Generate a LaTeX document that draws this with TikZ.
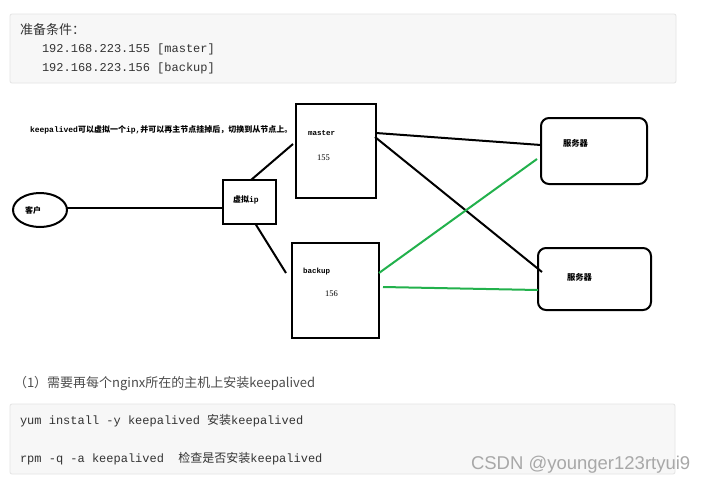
\documentclass[tikz,border=0pt]{standalone}
\usepackage{fontspec}
\usetikzlibrary{shapes.geometric}
\setmainfont{Liberation Serif}
\setmonofont{Liberation Mono}
\newfontfamily\cjk{Noto Sans CJK SC}
\newfontfamily\wmfont{Liberation Sans}
\newfontfamily\serifnum{Liberation Serif}
\definecolor{codebg}{HTML}{F7F7F7}
\definecolor{codeborder}{HTML}{E4E4E4}
\definecolor{codetxt}{HTML}{333333}
\definecolor{headtxt}{HTML}{4D4D4D}
\definecolor{paintgreen}{RGB}{34,177,76}
\definecolor{wmgray}{HTML}{A8A8A8}
\begin{document}
\begin{tikzpicture}[x=1pt,y=-1pt,
  codebox/.style={fill=codebg,draw=codeborder,line width=0.8pt,rounded corners=2pt},
  txt/.style={anchor=base west,inner sep=0pt,outer sep=0pt},
  codetext/.style={txt,text=codetxt,font=\fontsize{12}{14}\selectfont\ttfamily},
  dtext/.style={txt,text=black,font=\fontsize{8}{9}\selectfont},
  sq/.style={draw=black,line width=2pt,inner sep=0pt,outer sep=0pt,rectangle},
  srv/.style={sq,rounded corners=8pt},
  link/.style={line width=2pt,draw=black},
  glink/.style={line width=2pt,draw=paintgreen}]
\useasboundingbox (0,0) rectangle (709,482);
\fill[white] (0,0) rectangle (709,482);

% top code box
\draw[codebox] (10,14) rectangle (676,83);
\node[txt,text=codetxt,font=\fontsize{13}{15}\selectfont\cjk] (prep) at (20,34) {准备条件：};
\node[codetext] (ip1) at (42,52) {192.168.223.155 [master]};
\node[codetext] (ip2) at (42,71) {192.168.223.156 [backup]};

% diagram
\node[dtext] (note) at (30,132) {\bfseries\ttfamily keepalived\cjk 可以虚拟一个\ttfamily ip,\cjk 并可以再主节点挂掉后，切换到从节点上。};

\node[sq,minimum width=80pt,minimum height=94pt] (master) at (336,151) {};
\node[sq,minimum width=87pt,minimum height=95pt] (backup) at (335.5,290.5) {};
\node[sq,minimum width=53pt,minimum height=44pt] (vip) at (249.5,202) {};
\node[srv,minimum width=106pt,minimum height=66pt] (srv1) at (594,151) {};
\node[srv,minimum width=113pt,minimum height=62pt] (srv2) at (594.5,279) {};
\node[draw=black,line width=2pt,ellipse,minimum width=54pt,minimum height=34pt,inner sep=0pt,outer sep=0pt] (client) at (40,210) {};

\node[dtext,font=\fontsize{7.5}{9}\selectfont\ttfamily\bfseries] (masterlbl) at (308,135) {master};
\node[dtext,font=\fontsize{8.5}{10}\selectfont\serifnum] (masternum) at (317,160) {155};
\node[dtext,font=\fontsize{7.5}{9}\selectfont\ttfamily\bfseries] (backuplbl) at (303,273.5) {backup};
\node[dtext,font=\fontsize{8.5}{10}\selectfont\serifnum] (backupnum) at (325,296) {156};
\node[dtext,font=\fontsize{8.3}{10}\selectfont\cjk\bfseries] (srv1lbl) at (563,146) {服务器};
\node[dtext,font=\fontsize{8.3}{10}\selectfont\cjk\bfseries] (srv2lbl) at (567,280) {服务器};
\node[dtext,font=\fontsize{8}{10}\selectfont\cjk\bfseries] (clientlbl) at (25,213) {客户};
\node[dtext,font=\fontsize{8}{10}\selectfont\bfseries] (viplbl) at (233,202) {\cjk 虚拟\ttfamily ip};

% connectors
\draw[link] ([yshift=2pt]client.east) -- ([yshift=2pt]client.east -| vip.west);
\draw[link] ([xshift=1.5pt]vip.north) -- ([xshift=-3pt,yshift=-40pt]master.north west);
\draw[link] ([xshift=6pt]vip.south) -- ([xshift=-6pt,yshift=-30pt]backup.north west);
\draw[link] ([yshift=-29pt]master.north east) -- ([yshift=-27pt]srv1.north west);
\draw[link] ([xshift=-1pt,yshift=-33pt]master.north east) -- ([xshift=4pt,yshift=-24pt]srv2.north west);
\draw[glink] ([yshift=-30pt]backup.north east) -- ([xshift=-4pt,yshift=-41pt]srv1.north west);
\draw[glink] ([xshift=4pt,yshift=-44pt]backup.north east) -- ([yshift=-42pt]srv2.north west);

% bottom
\node[txt,text=headtxt,font=\fontsize{13}{16}\selectfont\cjk] (step1) at (14,387) {（1）需要再每个nginx所在的主机上安装keepalived};
\draw[codebox] (10,404) rectangle (675,474);
\node[codetext] (cmd1) at (20,424.5) {yum install -y keepalived {\cjk 安装}keepalived};
\node[codetext] (cmd2) at (20,462.5) {rpm -q -a keepalived\ \ {\cjk 检查是否安装}keepalived};
\node[txt,text=wmgray,font=\fontsize{18.5}{21}\selectfont\wmfont] (wm) at (471,469) {CSDN @younger123rtyui9};
\end{tikzpicture}
\end{document}
